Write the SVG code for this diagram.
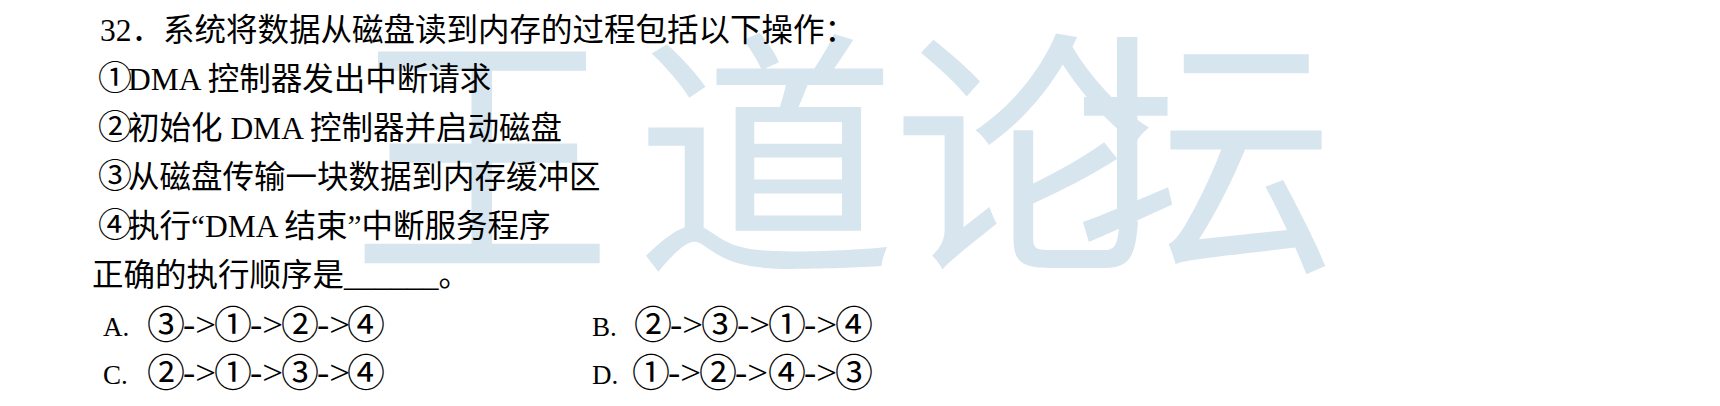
<svg xmlns="http://www.w3.org/2000/svg" width="1720" height="406" viewBox="0 0 1720 406">
<style>
.wm{font-family:"Noto Sans CJK SC",sans-serif;font-size:262px;font-weight:400;fill:#d7e5ef;text-anchor:middle}
.t{font-family:"Liberation Serif","Noto Sans CJK SC",serif;font-size:31.5px;fill:#000}
.c{font-size:34px}
.oc{font-family:"Noto Sans CJK SC",sans-serif;font-size:38px;fill:#000}
.ar{font-family:"Liberation Serif",serif;font-size:34px;fill:#000}
.lbl{font-family:"Liberation Serif",serif;font-size:27px;fill:#000}
</style>
<rect width="1720" height="406" fill="#fff"/>
<g id="watermark">
<text class="wm" x="482" y="254">王</text>
<text class="wm" x="766" y="254">道</text>
<text class="wm" x="1024" y="254">论</text>
<text class="wm" x="1205" y="254">坛</text>
</g>
<g id="question">
<text class="t" x="100" y="41">32．系统将数据从磁盘读到内存的过程包括以下操作：</text>
<text class="t" x="98" y="90"><tspan class="c">①</tspan><tspan dx="-4">DMA 控制器发出中断请求</tspan></text>
<text class="t" x="98" y="139"><tspan class="c">②</tspan><tspan dx="-4">初始化 DMA 控制器并启动磁盘</tspan></text>
<text class="t" x="98" y="188"><tspan class="c">③</tspan><tspan dx="-4">从磁盘传输一块数据到内存缓冲区</tspan></text>
<text class="t" x="98" y="237"><tspan class="c">④</tspan><tspan dx="-4">执行“DMA 结束”中断服务程序</tspan></text>
<text class="t" x="92" y="286">正确的执行顺序是______。</text>
</g>
<g id="optionA">
<text class="lbl" x="103" y="336">A.</text>
<text class="oc" x="147" y="338">③</text>
<text class="ar" x="183" y="336" textLength="33" lengthAdjust="spacingAndGlyphs">-&gt;</text>
<text class="oc" x="214" y="338">①</text>
<text class="ar" x="250" y="336" textLength="33" lengthAdjust="spacingAndGlyphs">-&gt;</text>
<text class="oc" x="281" y="338">②</text>
<text class="ar" x="317" y="336" textLength="33" lengthAdjust="spacingAndGlyphs">-&gt;</text>
<text class="oc" x="347" y="338">④</text>
</g>
<g id="optionB">
<text class="lbl" x="592" y="336">B.</text>
<text class="oc" x="634" y="338">②</text>
<text class="ar" x="670" y="336" textLength="33" lengthAdjust="spacingAndGlyphs">-&gt;</text>
<text class="oc" x="701" y="338">③</text>
<text class="ar" x="737" y="336" textLength="33" lengthAdjust="spacingAndGlyphs">-&gt;</text>
<text class="oc" x="768" y="338">①</text>
<text class="ar" x="804" y="336" textLength="33" lengthAdjust="spacingAndGlyphs">-&gt;</text>
<text class="oc" x="835" y="338">④</text>
</g>
<g id="optionC">
<text class="lbl" x="103" y="384">C.</text>
<text class="oc" x="147" y="386">②</text>
<text class="ar" x="183" y="384" textLength="33" lengthAdjust="spacingAndGlyphs">-&gt;</text>
<text class="oc" x="214" y="386">①</text>
<text class="ar" x="250" y="384" textLength="33" lengthAdjust="spacingAndGlyphs">-&gt;</text>
<text class="oc" x="281" y="386">③</text>
<text class="ar" x="317" y="384" textLength="33" lengthAdjust="spacingAndGlyphs">-&gt;</text>
<text class="oc" x="347" y="386">④</text>
</g>
<g id="optionD">
<text class="lbl" x="592" y="384">D.</text>
<text class="oc" x="632" y="386">①</text>
<text class="ar" x="668" y="384" textLength="33" lengthAdjust="spacingAndGlyphs">-&gt;</text>
<text class="oc" x="699" y="386">②</text>
<text class="ar" x="735" y="384" textLength="33" lengthAdjust="spacingAndGlyphs">-&gt;</text>
<text class="oc" x="768" y="386">④</text>
<text class="ar" x="804" y="384" textLength="33" lengthAdjust="spacingAndGlyphs">-&gt;</text>
<text class="oc" x="835" y="386">③</text>
</g>
</svg>
